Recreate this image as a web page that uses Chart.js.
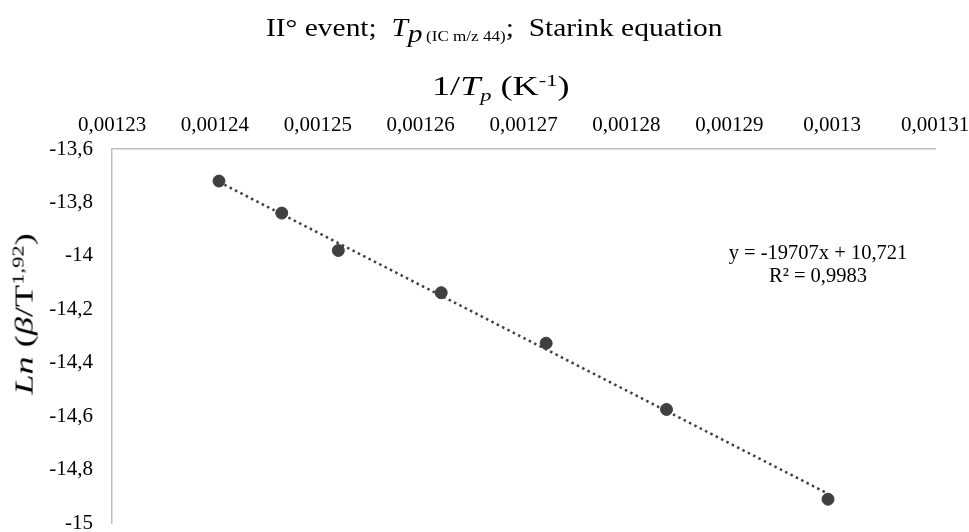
<!DOCTYPE html>
<html><head><meta charset="utf-8">
<script src="https://cdn.jsdelivr.net/npm/chart.js@4.4.0/dist/chart.umd.min.js"></script>
<style>
html,body{margin:0;padding:0;background:#fff;}
#wrap{position:relative;width:969px;height:532px;font-family:"Liberation Serif","Times New Roman",serif;color:#000;overflow:hidden;}
canvas{position:absolute;left:0;top:0;}
.t{position:absolute;white-space:nowrap;line-height:1;}
.sub{font-size:62%;vertical-align:-0.35em;}
.sup{font-size:62%;vertical-align:0.55em;}
</style></head><body>
<div id="wrap">
<canvas id="c" width="969" height="532"></canvas>
<div class="t" id="title" style="left:266px;top:15px;font-size:25px;transform-origin:0 50%">II° event;&nbsp; <i>T</i><span style="font-size:100%;vertical-align:-0.25em"><i>p</i></span><span class="sub" style="font-size:58%">&thinsp;(IC m/z 44)</span>;&nbsp; Starink equation</div>
<div class="t" id="xtitle" style="left:432px;top:73px;font-size:27px;transform-origin:0 50%">1/<i>T</i><span class="sub"><i>p</i></span> (K<span class="sup">-1</span>)</div>
<div class="t" id="ytitle" style="left:24px;top:314px;font-size:26px;"><i>Ln</i> (<i>β</i>/T<span class="sup">1,92</span>)</div>
<div class="t" id="eq" style="left:818px;top:241px;font-size:20.5px;transform:translateX(-50%);text-align:center;line-height:1.14">y = -19707x + 10,721<br>R² = 0,9983</div>
</div>
<script>
// Data
const invTp = [0.0012404, 0.0012465, 0.0012520, 0.0012620, 0.0012722, 0.0012839, 0.0012996];
const lnBetaT = [-13.720, -13.840, -13.980, -14.138, -14.327, -14.575, -14.911];
// Linear trend (as printed on the chart)
const trendSlope = -19707;
const trendIntercept = 10.721;
// Tick values and labels
const xTickValues = [0.00123, 0.00124, 0.00125, 0.00126, 0.00127, 0.00128, 0.00129, 0.0013, 0.00131];
const xTickLabels = ['0,00123', '0,00124', '0,00125', '0,00126', '0,00127', '0,00128', '0,00129', '0,0013', '0,00131'];
const yTickValues = [-13.6, -13.8, -14, -14.2, -14.4, -14.6, -14.8, -15];
const yTickLabels = ['-13,6', '-13,8', '-14', '-14,2', '-14,4', '-14,6', '-14,8', '-15'];

// stretch text blocks to the widths seen in the reference
function stretch(id, target, rotate) {
  const el = document.getElementById(id);
  const w = el.offsetWidth;
  const k = target / w;
  el.style.transform = rotate ? `translate(-50%,-50%) rotate(-90deg) scaleX(${k})` : `scaleX(${k})`;
}
stretch('title', 456);
stretch('xtitle', 138);
stretch('ytitle', 162, true);

const points = invTp.map((x, i) => ({x: x, y: lnBetaT[i]}));
const xMin = Math.min(...invTp), xMax = Math.max(...invTp);
const trend = [xMin, xMax].map(x => ({x: x, y: trendSlope * x + trendIntercept}));

const tickFont = {family: "'Liberation Serif','Times New Roman',serif", size: 21};
const noPad = s => { s.paddingTop = 0; s.paddingBottom = 0; s.paddingLeft = 0; s.paddingRight = 0; };

new Chart(document.getElementById('c'), {
  type: 'scatter',
  data: {
    datasets: [
      {
        type: 'line', data: trend, borderColor: '#404040', borderWidth: 2.5,
        borderDash: [2.5, 3.5], pointRadius: 0, fill: false, order: 2
      },
      {
        data: points, backgroundColor: '#404040', borderColor: '#404040',
        pointRadius: 6, pointHoverRadius: 6, order: 1
      }
    ]
  },
  options: {
    responsive: false, animation: false, events: [],
    layout: {padding: {top: 0, left: 0, right: 34, bottom: 9}},
    plugins: {legend: {display: false}, tooltip: {enabled: false}, title: {display: false}},
    scales: {
      x: {
        type: 'linear', position: 'top', min: 0.00123, max: 0.00131,
        afterBuildTicks: s => { s.ticks = xTickValues.map(v => ({value: v})); },
        afterFit: s => { s.height = 149; noPad(s); },
        ticks: {
          color: '#000', font: tickFont, padding: 11, maxRotation: 0, autoSkip: false,
          callback: (v, i) => xTickLabels[i]
        },
        grid: {display: false, drawTicks: false},
        border: {display: true, color: '#bfbfbf', width: 1.5}
      },
      y: {
        type: 'linear', min: -15, max: -13.6,
        afterBuildTicks: s => { s.ticks = yTickValues.map(v => ({value: v})); },
        afterFit: s => { s.width = 112; noPad(s); },
        ticks: {
          color: '#000', font: tickFont, padding: 19, autoSkip: false,
          callback: (v, i) => yTickLabels[i]
        },
        grid: {display: false, drawTicks: false},
        border: {display: true, color: '#bfbfbf', width: 1.5}
      }
    }
  }
});
</script>
</body></html>
